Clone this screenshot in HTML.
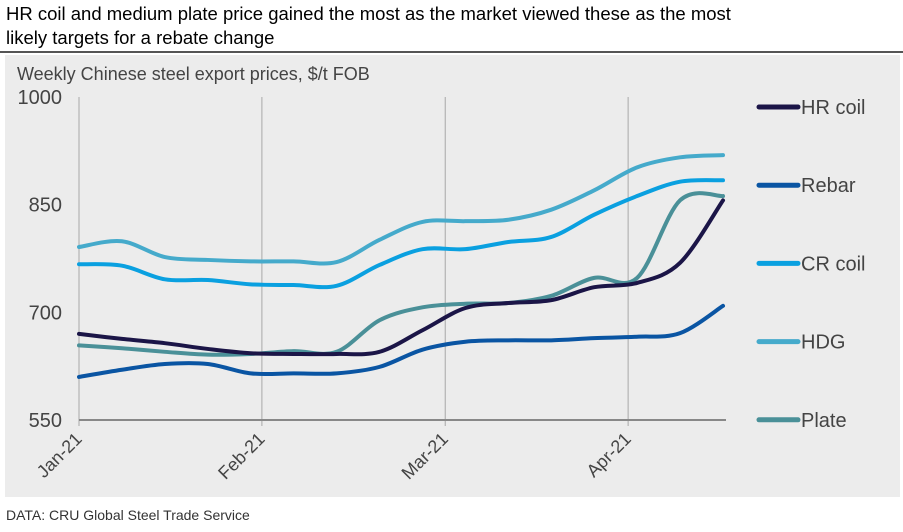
<!DOCTYPE html>
<html><head><meta charset="utf-8"><style>
body{margin:0;background:#fff;font-family:"Liberation Sans",Arial,sans-serif}
</style></head><body>
<svg width="903" height="527" viewBox="0 0 903 527" xmlns="http://www.w3.org/2000/svg" font-family="Liberation Sans, Arial, sans-serif">
<text x="6" y="20" font-size="18.5" fill="#000">HR coil and medium plate price gained the most as the market viewed these as the most</text>
<text x="6" y="44" font-size="18.5" fill="#000">likely targets for a rebate change</text>
<line x1="0" y1="52" x2="903" y2="52" stroke="#555" stroke-width="2"/>
<rect x="5" y="55" width="895" height="442" fill="#ececec"/>
<text x="17" y="80" font-size="18" fill="#444">Weekly Chinese steel export prices, $/t FOB</text>
<g id="grid"></g><g id="lines"></g><g id="legend"></g>
<text x="6" y="520" font-size="14" fill="#333">DATA: CRU Global Steel Trade Service</text>
</svg>
<script>
const yTicks=[550,700,850,1000];
const months=["Jan-21","Feb-21","Mar-21","Apr-21"];
const monthWeek=[0,4.26,8.53,12.79];
const seriesNames=["HR coil","Rebar","CR coil","HDG","Plate"];
const seriesColors=["#1b1547","#0a55a3","#0aa0e0","#45aacb","#4a9098"];
const hrCoil=[670,663,657,649,643,642,642,645,675,706,713,717,735,741,769,856];
const rebar=[610,620,628,628,615,615,615,624,648,659,661,661,664,666,671,709];
const crCoil=[767,765,746,745,739,738,737,766,788,788,798,805,836,862,882,884];
const hdg=[791,799,777,773,771,771,770,801,826,827,829,843,870,902,916,919];
const plate=[654,650,645,641,642,646,645,689,707,712,713,723,748,748,856,862];
const allSeries=[hrCoil,rebar,crCoil,hdg,plate];
const NS="http://www.w3.org/2000/svg";
const x=i=>79+i*(723-79)/15;
const y=v=>420-(v-550)*(420-97)/450;
function mk(tag,attrs,parent){const e=document.createElementNS(NS,tag);for(const k in attrs)e.setAttribute(k,attrs[k]);parent.appendChild(e);return e;}
const grid=document.getElementById('grid');
monthWeek.forEach((w,i)=>{
  const gl=mk('line',{x1:x(w),x2:x(w),y1:97,y2:426,stroke:'#a8a8a8','stroke-width':1},grid);
  
  
  const t=mk('text',{x:x(w)+4,y:440,'font-size':18,fill:'#444','text-anchor':'end',transform:`rotate(-45 ${x(w)+4} 440)`},grid);
  t.textContent=months[i];
  
  
});
yTicks.forEach(v=>{
  const t=mk('text',{x:62,y:y(v)+7,'font-size':20,fill:'#444','text-anchor':'end'},grid);
  t.textContent=v;
  
  
});
const ax=mk('line',{x1:79,x2:726,y1:420,y2:420,stroke:'#888','stroke-width':2},grid);


function smooth(pts){let d=`M${pts[0][0]},${pts[0][1]}`;for(let i=0;i<pts.length-1;i++){const p0=pts[i-1]||pts[i],p1=pts[i],p2=pts[i+1],p3=pts[i+2]||p2;const c1=[p1[0]+(p2[0]-p0[0])/6,p1[1]+(p2[1]-p0[1])/6],c2=[p2[0]-(p3[0]-p1[0])/6,p2[1]-(p3[1]-p1[1])/6];d+=` C${c1[0]},${c1[1]} ${c2[0]},${c2[1]} ${p2[0]},${p2[1]}`;}return d;}
const lines=document.getElementById('lines');
const order=[1,4,0,2,3];
order.forEach(s=>{
  const p=mk('path',{d:smooth(allSeries[s].map((v,i)=>[x(i),y(v)])),fill:'none',stroke:seriesColors[s],'stroke-width':4,'stroke-linecap':'round'},lines);
  
  
});
const lg=document.getElementById('legend');
seriesNames.forEach((n,i)=>{
  const ly=107+i*78.2;
  const l=mk('line',{x1:759,x2:798,y1:ly,y2:ly,stroke:seriesColors[i],'stroke-width':5,'stroke-linecap':'round'},lg);
  
  
  const t=mk('text',{x:801,y:ly+7,'font-size':20,fill:'#444'},lg);
  t.textContent=n;
  
  
});
</script>
</body></html>
